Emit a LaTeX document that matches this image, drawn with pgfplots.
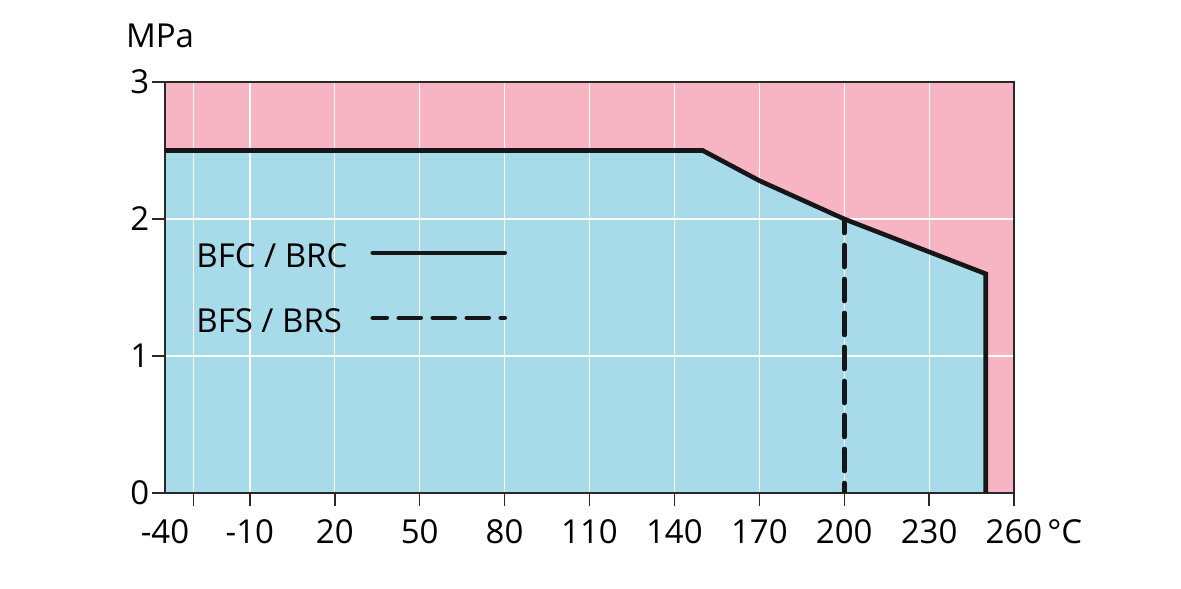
\documentclass[border=0pt]{standalone}
\usepackage{fontspec}
\setmainfont{Open Sans}
\usepackage{pgfplots}
\pgfplotsset{compat=1.18}
\definecolor{pinkc}{RGB}{247,181,196}
\definecolor{bluec}{RGB}{168,219,234}
\definecolor{framec}{RGB}{40,40,40}
\definecolor{linec}{RGB}{22,22,24}
\newcommand{\lblfont}{\fontsize{16.5}{19}\selectfont}
\begin{document}
\begin{tikzpicture}
\begin{axis}[
  set layers,
  at={(0,0)}, anchor=south west,
  scale only axis, width=424.5pt, height=205.5pt,
  xmin=-40, xmax=260, ymin=0, ymax=3,
  axis background/.style={fill=pinkc},
  axis line style={framec, line width=0.7pt},
  xtick={-30,-10,20,50,80,110,140,170,200,230,260},
  xticklabels={,-10,20,50,80,110,140,170,200,230,260\rlap{\kern2.5pt°C}},
  extra x ticks={-40}, extra x tick labels={-40},
  extra x tick style={major tick length=0pt, grid=none, tick label style={yshift=-6.3pt}},
  ytick={0,1,2,3},
  tick align=outside, major tick length=6.3pt,
  tick style={framec, line width=0.7pt},
  tick pos=left,
  grid=major, major grid style={white, line width=0.6pt},
  ticklabel style={font=\lblfont},
  xticklabel style={yshift=-3.5pt},
  yticklabel style={xshift=2pt},
  /pgf/number format/assume math mode=true,
  ylabel={MPa},
  every axis y label/.style={at={(rel axis cs:0,1)}, anchor=base west, xshift=-23pt, yshift=17pt, font=\lblfont},
  legend style={at={(rel axis cs:0.0365,0.608)}, anchor=north west, draw=none, fill=none,
    font=\lblfont, row sep=16.5pt, column sep=11.5pt, inner sep=0pt,
    nodes={inner sep=0pt, text height=12pt, text depth=4pt}},
  legend plot pos=right, legend cell align=left,
  legend image code/.code={\draw[#1, line cap=round] (1pt,3.3pt) -- (67pt,3.3pt);},
]
\addplot[fill=bluec, draw=none, forget plot, on layer=axis background] coordinates {(-40,2.5) (150,2.5) (170,2.28) (200,2.0) (230,1.76) (250,1.6)} \closedcycle;
\addplot[linec, line width=2.3pt] coordinates {(-45,2.5) (150,2.5) (170,2.28) (200,2.0) (230,1.76) (250,1.6) (250,0)};
\addlegendentry{BFC / BRC}
\addplot[linec, line width=2.3pt, line cap=round, dash pattern=on 11pt off 6pt, dash phase=4pt] coordinates {(200,2.0) (200,0)};
\addlegendentry{BFS / BRS}
\end{axis}
\pgfresetboundingbox
\path[use as bounding box] (-82.5pt,-47.5pt) rectangle (508pt,246.5pt);
\end{tikzpicture}
\end{document}
